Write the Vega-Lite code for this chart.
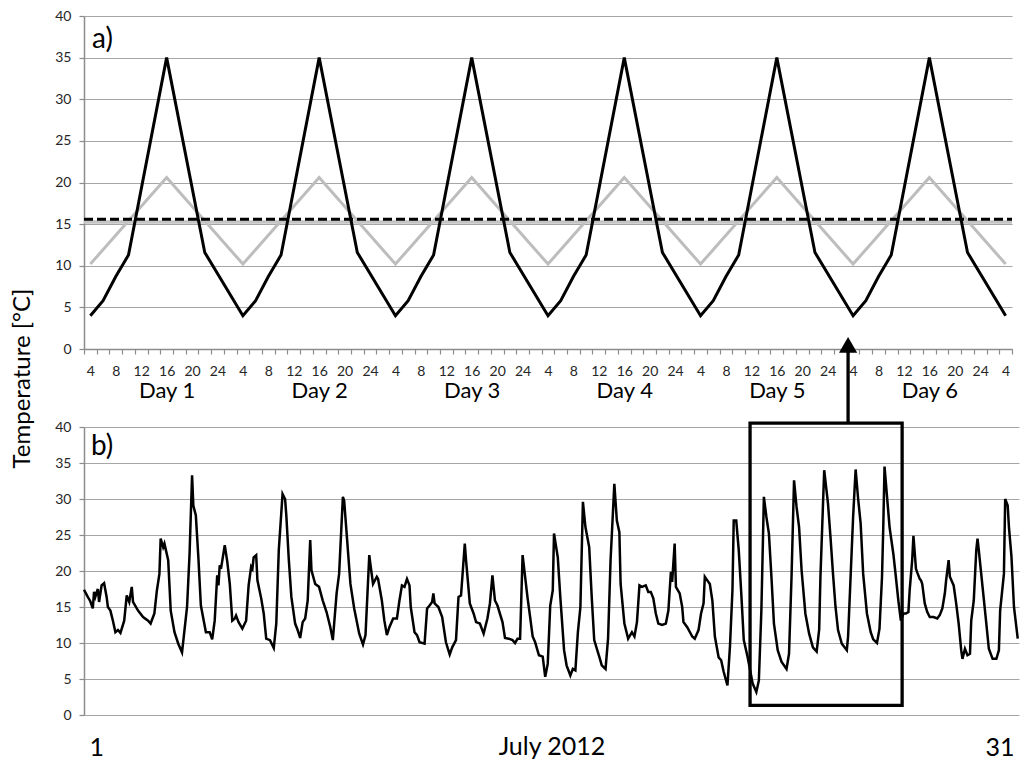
{
  "$schema": "https://vega.github.io/schema/vega-lite/v6.json",
  "background": "white",
  "padding": {"left": 10, "top": 9, "right": 10, "bottom": 5},
  "bounds": "flush",
  "spacing": 78,
  "config": {
    "font": "Lato",
    "view": {"stroke": null},
    "title": {"font": "Lato", "fontWeight": "normal", "color": "#000000"},
    "axis": {
      "labelFont": "Lato", "titleFont": "Lato", "labelColor": "#262626", "titleColor": "#000000",
      "labelFontSize": 14, "titleFontWeight": "normal", "gridColor": "#a6a6a6", "gridWidth": 1,
      "domainColor": "#8c8c8c", "domainWidth": 1.5, "tickColor": "#8c8c8c", "tickSize": 5, "tickWidth": 1.2, "labelPadding": 8
    }
  },
  "datasets": {
    "synthetic": [
      {"hour": 4, "temp": 10.2, "series": "gray"}, {"hour": 16, "temp": 20.6, "series": "gray"},
      {"hour": 28, "temp": 10.2, "series": "gray"}, {"hour": 40, "temp": 20.6, "series": "gray"},
      {"hour": 52, "temp": 10.2, "series": "gray"}, {"hour": 64, "temp": 20.6, "series": "gray"},
      {"hour": 76, "temp": 10.2, "series": "gray"}, {"hour": 88, "temp": 20.6, "series": "gray"},
      {"hour": 100, "temp": 10.2, "series": "gray"}, {"hour": 112, "temp": 20.6, "series": "gray"},
      {"hour": 124, "temp": 10.2, "series": "gray"}, {"hour": 136, "temp": 20.6, "series": "gray"},
      {"hour": 148, "temp": 10.2, "series": "gray"},
      {"hour": 4, "temp": 4.0, "series": "black"}, {"hour": 6, "temp": 5.8, "series": "black"}, {"hour": 8, "temp": 8.7, "series": "black"}, {"hour": 10, "temp": 11.3, "series": "black"}, {"hour": 16, "temp": 35.0, "series": "black"}, {"hour": 22, "temp": 11.6, "series": "black"},
      {"hour": 28, "temp": 4.0, "series": "black"}, {"hour": 30, "temp": 5.8, "series": "black"}, {"hour": 32, "temp": 8.7, "series": "black"}, {"hour": 34, "temp": 11.3, "series": "black"}, {"hour": 40, "temp": 35.0, "series": "black"}, {"hour": 46, "temp": 11.6, "series": "black"},
      {"hour": 52, "temp": 4.0, "series": "black"}, {"hour": 54, "temp": 5.8, "series": "black"}, {"hour": 56, "temp": 8.7, "series": "black"}, {"hour": 58, "temp": 11.3, "series": "black"}, {"hour": 64, "temp": 35.0, "series": "black"}, {"hour": 70, "temp": 11.6, "series": "black"},
      {"hour": 76, "temp": 4.0, "series": "black"}, {"hour": 78, "temp": 5.8, "series": "black"}, {"hour": 80, "temp": 8.7, "series": "black"}, {"hour": 82, "temp": 11.3, "series": "black"}, {"hour": 88, "temp": 35.0, "series": "black"}, {"hour": 94, "temp": 11.6, "series": "black"},
      {"hour": 100, "temp": 4.0, "series": "black"}, {"hour": 102, "temp": 5.8, "series": "black"}, {"hour": 104, "temp": 8.7, "series": "black"}, {"hour": 106, "temp": 11.3, "series": "black"}, {"hour": 112, "temp": 35.0, "series": "black"}, {"hour": 118, "temp": 11.6, "series": "black"},
      {"hour": 124, "temp": 4.0, "series": "black"}, {"hour": 126, "temp": 5.8, "series": "black"}, {"hour": 128, "temp": 8.7, "series": "black"}, {"hour": 130, "temp": 11.3, "series": "black"}, {"hour": 136, "temp": 35.0, "series": "black"}, {"hour": 142, "temp": 11.6, "series": "black"},
      {"hour": 148, "temp": 4.0, "series": "black"},
      {"hour": 3, "temp": 15.25, "series": "mean_gray"}, {"hour": 149, "temp": 15.25, "series": "mean_gray"},
      {"hour": 3, "temp": 15.6, "series": "mean_black"}, {"hour": 149, "temp": 15.6, "series": "mean_black"}
    ],
    "july": [
      {"hour":0,"temp":17.4},{"hour":3,"temp":16.4},{"hour":5,"temp":15.8},{"hour":7,"temp":14.8},{"hour":8,"temp":17.1},{"hour":9,"temp":16.4},{"hour":11,"temp":17.5},{"hour":12,"temp":15.7},{"hour":14,"temp":18.0},{"hour":16,"temp":18.3},{"hour":18,"temp":16.4},{"hour":19,"temp":15.0},{"hour":21,"temp":14.5},{"hour":23,"temp":13.1},{"hour":25,"temp":11.5},{"hour":27,"temp":11.8},{"hour":29,"temp":11.4},{"hour":32,"temp":13.1},{"hour":34,"temp":16.6},{"hour":36,"temp":15.7},{"hour":38,"temp":17.8},{"hour":39,"temp":15.7},{"hour":43,"temp":14.5},{"hour":47,"temp":13.6},{"hour":51,"temp":13.1},{"hour":53,"temp":12.7},{"hour":56,"temp":14.1},{"hour":58,"temp":17.3},{"hour":60,"temp":19.6},{"hour":61,"temp":24.5},{"hour":63,"temp":23.3},{"hour":64,"temp":23.8},{"hour":67,"temp":21.5},{"hour":69,"temp":14.5},{"hour":72,"temp":11.5},{"hour":75,"temp":9.9},{"hour":78,"temp":8.7},{"hour":82,"temp":15.0},{"hour":84,"temp":22.4},{"hour":86,"temp":33.3},{"hour":87,"temp":29.1},{"hour":89,"temp":27.7},{"hour":91,"temp":21.9},{"hour":93,"temp":15.2},{"hour":97,"temp":11.5},{"hour":100,"temp":11.5},{"hour":102,"temp":10.5},{"hour":104,"temp":13.1},{"hour":106,"temp":19.4},{"hour":107,"temp":18.0},{"hour":108,"temp":20.8},{"hour":109,"temp":20.3},{"hour":112,"temp":23.6},{"hour":114,"temp":21.3},{"hour":116,"temp":18.2},{"hour":118,"temp":13.1},
      {"hour":120,"temp":13.4},{"hour":121,"temp":13.8},{"hour":123,"temp":12.9},{"hour":126,"temp":12.0},{"hour":129,"temp":13.1},{"hour":131,"temp":18.0},{"hour":133,"temp":20.6},{"hour":134,"temp":20.3},{"hour":135,"temp":21.9},{"hour":137,"temp":22.2},{"hour":138,"temp":18.7},{"hour":141,"temp":16.2},{"hour":143,"temp":14.1},{"hour":145,"temp":10.6},{"hour":148,"temp":10.4},{"hour":151,"temp":9.3},{"hour":153,"temp":12.7},{"hour":155,"temp":22.9},{"hour":158,"temp":30.7},{"hour":160,"temp":30.0},{"hour":161,"temp":27.7},{"hour":163,"temp":21.5},{"hour":165,"temp":16.4},{"hour":168,"temp":12.7},{"hour":170,"temp":11.8},{"hour":172,"temp":10.7},{"hour":174,"temp":12.9},{"hour":176,"temp":13.4},{"hour":178,"temp":15.9},{"hour":180,"temp":24.3},{"hour":181,"temp":20.1},{"hour":184,"temp":18.2},{"hour":187,"temp":17.8},{"hour":190,"temp":15.9},{"hour":193,"temp":14.3},{"hour":196,"temp":12.2},{"hour":198,"temp":10.4},{"hour":201,"temp":16.9},{"hour":203,"temp":19.6},{"hour":206,"temp":30.3},{"hour":207,"temp":29.8},{"hour":209,"temp":25.2},{"hour":212,"temp":18.2},{"hour":215,"temp":14.8},{"hour":219,"temp":11.3},{"hour":222,"temp":9.8},{"hour":224,"temp":11.1},{"hour":227,"temp":22.2},{"hour":228,"temp":20.8},{"hour":230,"temp":18.2},{"hour":233,"temp":19.2},{"hour":234,"temp":18.9},{"hour":237,"temp":15.9},
      {"hour":239,"temp":13.1},{"hour":241,"temp":11.1},{"hour":243,"temp":12.2},{"hour":246,"temp":13.4},{"hour":249,"temp":13.4},{"hour":251,"temp":15.9},{"hour":253,"temp":18.0},{"hour":255,"temp":17.8},{"hour":257,"temp":18.9},{"hour":259,"temp":18.0},{"hour":260,"temp":15.0},{"hour":263,"temp":11.5},{"hour":265,"temp":11.1},{"hour":267,"temp":10.1},{"hour":271,"temp":9.9},{"hour":273,"temp":14.8},{"hour":275,"temp":15.2},{"hour":277,"temp":15.7},{"hour":278,"temp":16.9},{"hour":279,"temp":15.5},{"hour":282,"temp":15.0},{"hour":285,"temp":13.6},{"hour":288,"temp":10.1},{"hour":291,"temp":8.4},{"hour":293,"temp":9.4},{"hour":296,"temp":10.4},{"hour":298,"temp":16.4},{"hour":300,"temp":16.6},{"hour":303,"temp":23.8},{"hour":304,"temp":21.5},{"hour":307,"temp":15.5},{"hour":310,"temp":14.1},{"hour":312,"temp":12.9},{"hour":315,"temp":12.7},{"hour":318,"temp":11.3},{"hour":321,"temp":13.4},{"hour":323,"temp":15.5},{"hour":325,"temp":19.4},{"hour":327,"temp":15.9},{"hour":329,"temp":15.2},{"hour":333,"temp":12.9},{"hour":335,"temp":10.7},{"hour":338,"temp":10.6},{"hour":341,"temp":10.4},{"hour":343,"temp":10.0},{"hour":345,"temp":10.6},{"hour":347,"temp":10.6},{"hour":349,"temp":22.2},{"hour":353,"temp":16.2},{"hour":355,"temp":13.6},
      {"hour":357,"temp":10.9},{"hour":359,"temp":10.1},{"hour":362,"temp":8.3},{"hour":365,"temp":8.1},{"hour":367,"temp":5.3},{"hour":369,"temp":7.1},{"hour":371,"temp":15.2},{"hour":373,"temp":17.3},{"hour":374,"temp":25.2},{"hour":377,"temp":21.9},{"hour":379,"temp":16.4},{"hour":382,"temp":9.0},{"hour":384,"temp":6.9},{"hour":387,"temp":5.5},{"hour":389,"temp":6.4},{"hour":391,"temp":6.2},{"hour":393,"temp":11.5},{"hour":395,"temp":15.0},{"hour":397,"temp":29.6},{"hour":399,"temp":26.1},{"hour":402,"temp":23.3},{"hour":404,"temp":16.4},{"hour":406,"temp":10.4},{"hour":410,"temp":8.1},{"hour":412,"temp":6.9},{"hour":415,"temp":6.4},{"hour":417,"temp":10.6},{"hour":419,"temp":21.5},{"hour":422,"temp":32.1},{"hour":424,"temp":27.0},{"hour":426,"temp":25.4},{"hour":427,"temp":18.2},{"hour":430,"temp":12.7},{"hour":433,"temp":10.6},{"hour":436,"temp":11.5},{"hour":438,"temp":10.9},{"hour":440,"temp":12.9},{"hour":442,"temp":18.0},{"hour":444,"temp":17.8},{"hour":447,"temp":18.0},{"hour":449,"temp":17.1},{"hour":451,"temp":17.1},{"hour":453,"temp":16.2},{"hour":455,"temp":14.1},{"hour":457,"temp":12.7},{"hour":460,"temp":12.5},{"hour":463,"temp":12.7},{"hour":465,"temp":14.5},{"hour":467,"temp":19.9},{"hour":468,"temp":18.5},{"hour":470,"temp":23.8},{"hour":471,"temp":17.8},{"hour":474,"temp":16.9},{"hour":476,"temp":15.0},
      {"hour":477,"temp":12.9},{"hour":480,"temp":12.2},{"hour":484,"temp":10.9},{"hour":486,"temp":10.6},{"hour":489,"temp":11.8},{"hour":491,"temp":14.1},{"hour":493,"temp":15.5},{"hour":494,"temp":19.2},{"hour":496,"temp":18.7},{"hour":498,"temp":18.2},{"hour":500,"temp":15.9},{"hour":502,"temp":10.9},{"hour":505,"temp":8.0},{"hour":507,"temp":7.6},{"hour":509,"temp":6.0},{"hour":512,"temp":4.1},{"hour":514,"temp":9.5},{"hour":516,"temp":17.4},{"hour":517,"temp":27.0},{"hour":519,"temp":27.0},{"hour":521,"temp":22.9},{"hour":523,"temp":16.9},{"hour":525,"temp":10.4},{"hour":528,"temp":8.1},{"hour":530,"temp":6.3},{"hour":532,"temp":4.4},{"hour":535,"temp":3.2},{"hour":537,"temp":4.8},{"hour":539,"temp":14.5},{"hour":541,"temp":30.3},{"hour":543,"temp":27.5},{"hour":545,"temp":25.2},{"hour":547,"temp":19.2},{"hour":549,"temp":12.7},{"hour":552,"temp":9.0},{"hour":555,"temp":7.4},{"hour":559,"temp":6.4},{"hour":561,"temp":8.5},{"hour":563,"temp":19.2},{"hour":565,"temp":32.6},{"hour":567,"temp":28.9},{"hour":569,"temp":26.1},{"hour":571,"temp":20.1},{"hour":574,"temp":14.1},{"hour":577,"temp":11.3},{"hour":580,"temp":9.4},{"hour":583,"temp":8.8},{"hour":585,"temp":11.9},{"hour":586,"temp":19.2},{"hour":589,"temp":34.0},{"hour":592,"temp":29.4},{"hour":594,"temp":24.7},
      {"hour":596,"temp":19.6},{"hour":598,"temp":15.0},{"hour":600,"temp":11.8},{"hour":603,"temp":9.9},{"hour":607,"temp":9.0},{"hour":608,"temp":10.9},{"hour":610,"temp":19.2},{"hour":612,"temp":27.5},{"hour":614,"temp":34.1},{"hour":616,"temp":30.0},{"hour":618,"temp":26.6},{"hour":620,"temp":19.6},{"hour":623,"temp":14.1},{"hour":626,"temp":11.5},{"hour":628,"temp":10.5},{"hour":631,"temp":10.0},{"hour":633,"temp":12.0},{"hour":635,"temp":19.2},{"hour":636,"temp":26.1},{"hour":637,"temp":34.5},{"hour":639,"temp":30.3},{"hour":641,"temp":26.1},{"hour":644,"temp":22.4},{"hour":646,"temp":19.2},{"hour":648,"temp":15.9},{"hour":650,"temp":13.1},{"hour":652,"temp":14.1},{"hour":654,"temp":14.1},{"hour":656,"temp":14.3},{"hour":657,"temp":17.3},{"hour":659,"temp":21.5},{"hour":660,"temp":24.9},{"hour":662,"temp":20.3},{"hour":663,"temp":19.8},{"hour":665,"temp":18.9},{"hour":666,"temp":18.7},{"hour":667,"temp":18.2},{"hour":669,"temp":15.5},{"hour":671,"temp":14.3},{"hour":673,"temp":13.6},{"hour":676,"temp":13.6},{"hour":679,"temp":13.4},{"hour":681,"temp":13.9},{"hour":683,"temp":14.8},{"hour":685,"temp":16.9},{"hour":686,"temp":18.7},{"hour":688,"temp":21.5},{"hour":689,"temp":19.2},{"hour":692,"temp":18.0},{"hour":694,"temp":15.5},{"hour":696,"temp":12.7},{"hour":698,"temp":9.0},{"hour":699,"temp":7.8},{"hour":701,"temp":9.2},{"hour":703,"temp":8.3},{"hour":705,"temp":8.5},{"hour":706,"temp":13.1},{"hour":708,"temp":15.9},{"hour":710,"temp":22.9},{"hour":711,"temp":24.5},{"hour":712,"temp":22.9},{"hour":715,"temp":17.8},{"hour":718,"temp":12.7},{"hour":720,"temp":9.2},{"hour":723,"temp":7.8},{"hour":726,"temp":7.8},{"hour":728,"temp":9.0},{"hour":729,"temp":14.5},{"hour":732,"temp":19.6},{"hour":733,"temp":30.0},{"hour":735,"temp":29.1},{"hour":736,"temp":26.1},{"hour":738,"temp":22.0},{"hour":740,"temp":15.0},{"hour":743,"temp":10.6}
    ],
    "box": [{"hour": 530, "hour2": 651, "temp": 1.35, "temp2": 40.55}],
    "arrow": [{"hour": 608, "temp": 40.55, "temp2": 51.0}],
    "arrowhead": [{"hour": 608, "temp": 51.4}]
  },
  "vconcat": [
    {
      "width": 928,
      "height": 333,
      "title": {"text": "a)", "anchor": "start", "frame": "group", "orient": "top", "offset": -45, "dx": 8, "fontSize": 28, "fontWeight": "normal", "font": "Lato", "color": "#000000"},
      "data": {"name": "synthetic"},
      "encoding": {
        "x": {
          "field": "hour", "type": "quantitative",
          "scale": {"domain": [3, 149], "nice": false, "zero": false},
          "axis": {
            "title": null, "grid": false, "labelFlush": false, "labelOverlap": false, "labelBound": false,
            "values": [3,4,5,6,7,8,9,10,11,12,13,14,15,16,16.001,17,18,19,20,21,22,23,24,25,26,27,28,29,30,31,32,33,34,35,36,37,38,39,40,40.001,41,42,43,44,45,46,47,48,49,50,51,52,53,54,55,56,57,58,59,60,61,62,63,64,64.001,65,66,67,68,69,70,71,72,73,74,75,76,77,78,79,80,81,82,83,84,85,86,87,88,88.001,89,90,91,92,93,94,95,96,97,98,99,100,101,102,103,104,105,106,107,108,109,110,111,112,112.001,113,114,115,116,117,118,119,120,121,122,123,124,125,126,127,128,129,130,131,132,133,134,135,136,136.001,137,138,139,140,141,142,143,144,145,146,147,148,149],
            "labelExpr": "datum.value % 1 > 0 ? ['', 'Day ' + toString(floor(datum.value / 24) + 1)] : (datum.value % 4 == 0 ? toString((datum.value - 1) % 24 + 1) : '')",
            "tickOpacity": {"condition": {"test": "datum.value % 2 == 1", "value": 1}, "value": 0},
            "labelFontSize": {"condition": {"test": "datum.value % 1 > 0", "value": 22}, "value": 14},
            "labelColor": {"condition": {"test": "datum.value % 1 > 0", "value": "#000000"}, "value": "#262626"},
            "labelLineHeight": 16,
            "labelPadding": 10
          }
        },
        "y": {
          "field": "temp", "type": "quantitative",
          "scale": {"domain": [0, 40], "nice": false},
          "axis": {
            "values": [0, 5, 10, 15, 20, 25, 30, 35, 40],
            "title": "Temperature [°C]", "titleFontSize": 24, "titleAngle": 270,
            "titleX": -62, "titleY": 362, "titleBaseline": "middle", "titleAlign": "center"
          }
        }
      },
      "layer": [
        {"transform": [{"filter": "datum.series == 'gray'"}], "mark": {"type": "line", "color": "#bdbdbd", "strokeWidth": 3}},
        {"transform": [{"filter": "datum.series == 'mean_gray'"}], "mark": {"type": "line", "color": "#c4c4c4", "strokeWidth": 3.5}},
        {"transform": [{"filter": "datum.series == 'black'"}], "mark": {"type": "line", "color": "#000000", "strokeWidth": 3}},
        {"transform": [{"filter": "datum.series == 'mean_black'"}], "mark": {"type": "line", "color": "#000000", "strokeWidth": 3, "strokeDash": [9, 4]}}
      ]
    },
    {
      "width": 935,
      "height": 288,
      "title": {"text": "b)", "anchor": "start", "frame": "group", "orient": "top", "offset": -124, "dx": 7, "fontSize": 28, "fontWeight": "normal", "font": "Lato", "color": "#000000"},
      "data": {"name": "july"},
      "encoding": {
        "x": {
          "field": "hour", "type": "quantitative",
          "scale": {"domain": [0, 744], "nice": false, "zero": false},
          "axis": {
            "values": [0, 744], "labelExpr": "datum.value == 0 ? '1' : '31'",
            "labelFlush": true, "labelFlushOffset": -5, "ticks": false, "tickSize": 0, "domain": false, "grid": false,
            "labelFontSize": 25, "labelPadding": 20, "labelColor": "#000000",
            "title": "July 2012", "titleFontSize": 25, "titleY": 31, "titleBaseline": "middle"
          }
        },
        "y": {
          "field": "temp", "type": "quantitative",
          "scale": {"domain": [0, 40], "nice": false},
          "axis": {"values": [0, 5, 10, 15, 20, 25, 30, 35, 40], "title": null}
        }
      },
      "layer": [
        {"mark": {"type": "line", "color": "#000000", "strokeWidth": 2.5}},
        {
          "data": {"name": "box"},
          "mark": {"type": "rect", "fillOpacity": 0, "stroke": "#000000", "strokeWidth": 3.3},
          "encoding": {"x2": {"field": "hour2"}, "y2": {"field": "temp2"}}
        },
        {
          "data": {"name": "arrow"},
          "mark": {"type": "rule", "color": "#000000", "strokeWidth": 3.3},
          "encoding": {"y2": {"field": "temp2"}}
        },
        {
          "data": {"name": "arrowhead"},
          "mark": {"type": "point", "shape": "triangle-up", "filled": true, "color": "#000000", "size": 330, "opacity": 1},
          "encoding": {}
        }
      ]
    }
  ]
}
